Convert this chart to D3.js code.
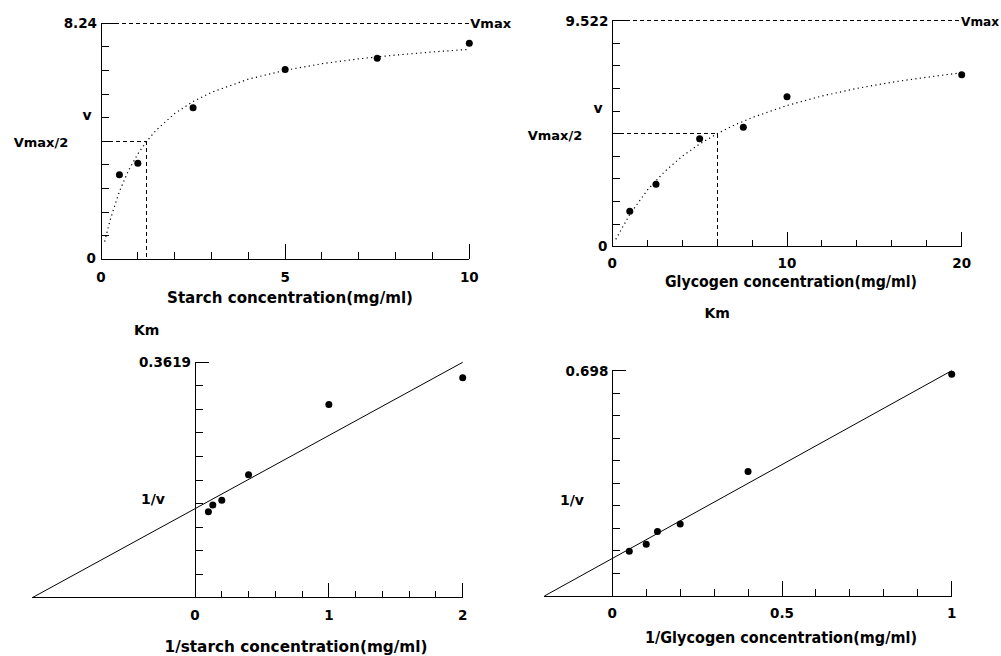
<!DOCTYPE html>
<html><head><meta charset="utf-8">
<script src="https://cdn.jsdelivr.net/npm/d3@7"></script>
<style>
html,body{margin:0;padding:0;background:#fff;}
svg text{font-family:"DejaVu Sans",Verdana,sans-serif;font-weight:bold;font-size:13.5px;fill:#000;}
svg text.title{font-size:15px;}
svg text.name{font-size:14px;}
svg text.vm{font-size:13px;}
</style></head>
<body><svg id="c" width="1001" height="656"></svg>
<script>
// ---- Data ----
const starchConc = [0.5, 1, 2.5, 5, 7.5, 10];
const starchRate = [2.95, 3.35, 5.29, 6.63, 7.02, 7.54];
const starchFitConc = [0.1, 0.25, 0.5, 0.75, 1, 1.24, 1.5, 2, 2.5, 3, 4, 5, 6, 7, 8, 9, 10];
const starchFitRate = [0.62, 1.38, 2.37, 3.11, 3.68, 4.12, 4.51, 5.09, 5.51, 5.83, 6.29, 6.60, 6.83, 7.00, 7.13, 7.24, 7.33];
const starchVmax = 8.24, starchKm = 1.24;

const glyConc = [1, 2.5, 5, 7.5, 10, 20];
const glyRate = [1.49, 2.63, 4.55, 5.03, 6.32, 7.24];
const glyFitConc = [0.2, 1, 2, 3, 4, 5, 6, 7, 8, 10, 12, 14, 16, 18, 20];
const glyFitRate = [0.31, 1.36, 2.38, 3.17, 3.81, 4.33, 4.76, 5.13, 5.44, 5.95, 6.35, 6.67, 6.93, 7.14, 7.33];
const glyVmax = 9.522, glyKm = 6.0;

const invStarchConc = [0.1, 0.133, 0.2, 0.4, 1, 2];
const invStarchRate = [0.132, 0.1425, 0.150, 0.189, 0.297, 0.338];
const starchLineX = [-1.216, 2];
const starchLineY = [0, 0.3619];
const invStarchTop = 0.3619;

const invGlyConc = [0.05, 0.1, 0.133, 0.2, 0.4, 1];
const invGlyRate = [0.139, 0.160, 0.200, 0.223, 0.386, 0.687];
const glyLineX = [-0.2, 1];
const glyLineY = [0, 0.698];
const invGlyTop = 0.698;

const svg = d3.select("#c");

function panel(o) {
  const g = svg.append("g");
  const x = d3.scaleLinear().domain(o.xDomain).range(o.xRange);
  const y = d3.scaleLinear().domain([0, o.yTop]).range(o.yRange);
  const x0 = x(0), yb = y(0);
  const L = (a, b, c, d, dash) => {
    const l = g.append("line").attr("x1", a).attr("y1", b).attr("x2", c).attr("y2", d)
      .attr("stroke", "#000").attr("stroke-width", 1).attr("shape-rendering", "crispEdges");
    if (dash) l.attr("stroke-dasharray", dash);
    return l;
  };
  // axes
  L(x0, y(o.yTop), x0, yb);
  L(x(o.axisXMin), yb, x(o.xDomain[1]), yb);
  // y ticks
  d3.range(1, 11).forEach(i => {
    const v = o.yTop * i / 10;
    L(x0, y(v), x0 + (i === 10 ? 14 : 8), y(v));
  });
  // x ticks
  d3.range(1, 11).forEach(i => {
    const v = o.xDomain[1] * i / 10;
    const major = (i % 5 === 0);
    L(x(v), yb, x(v), yb - (major ? 15 : 7));
  });
  // x tick labels
  o.xLabels.forEach(v => {
    g.append("text").attr("x", x(v)).attr("y", yb + o.xLabDy).attr("text-anchor", "middle").text(v);
  });
  // y top label
  g.append("text").attr("x", x0 - 4).attr("y", y(o.yTop) + 5).attr("text-anchor", "end").text(o.yTopLabel);
  if (o.yZero) g.append("text").attr("x", x0 - 5).attr("y", yb + 4).attr("text-anchor", "end").text("0");
  // axis title
  g.append("text").attr("class", "title").attr("x", o.titleX).attr("y", yb + o.titleDy)
    .attr("text-anchor", "middle").attr("textLength", o.titleW).attr("lengthAdjust", "spacingAndGlyphs").text(o.title);
  g.append("text").attr("class", "name").attr("x", o.yLab[0]).attr("y", o.yLab[1]).attr("text-anchor", "middle").text(o.yName);
  return {g, x, y, L};
}

const line = (x, y) => d3.line().x(d => x(d[0])).y(d => y(d[1]));

// ---- Panel 1: starch ----
(function () {
  const p = panel({xDomain: [0, 10], xRange: [101, 469.3], axisXMin: 0, yTop: starchVmax, yRange: [259.3, 23.3],
    xLabels: [0, 5, 10], xLabDy: 23, yTopLabel: "8.24", yZero: true,
    title: "Starch concentration(mg/ml)", titleX: 290, titleDy: 44, titleW: 246, yName: "v", yLab: [87, 120]});
  const {g, x, y, L} = p;
  L(x(0) + 14, y(starchVmax), x(10), y(starchVmax), "4,3");
  g.append("text").attr("class", "vm").attr("x", x(10) + 1).attr("y", y(starchVmax) + 5).text("Vmax");
  L(x(0) + 8, y(starchVmax / 2), x(starchKm), y(starchVmax / 2), "4,3");
  L(x(starchKm), y(starchVmax / 2), x(starchKm), y(0), "4,3");
  g.append("text").attr("class", "vm").attr("x", 41).attr("y", y(starchVmax / 2) + 6).attr("text-anchor", "middle").text("Vmax/2");
  g.append("text").attr("class", "name").attr("x", x(starchKm)).attr("y", 335).attr("text-anchor", "middle").text("Km");
  g.append("path").attr("d", line(x, y)(d3.zip(starchFitConc, starchFitRate)))
    .attr("fill", "none").attr("stroke", "#000").attr("stroke-width", 1.2).attr("stroke-dasharray", "1.2,3.3");
  g.selectAll("circle").data(d3.zip(starchConc, starchRate)).join("circle")
    .attr("cx", d => x(d[0])).attr("cy", d => y(d[1])).attr("r", 3.5).attr("fill", "#000");
})();

// ---- Panel 2: glycogen ----
(function () {
  const p = panel({xDomain: [0, 20], xRange: [612.3, 961.7], axisXMin: 0, yTop: glyVmax, yRange: [246.7, 20.7],
    xLabels: [0, 10, 20], xLabDy: 21, yTopLabel: "9.522", yZero: true,
    title: "Glycogen concentration(mg/ml)", titleX: 791, titleDy: 40, titleW: 252, yName: "v", yLab: [598, 113]});
  const {g, x, y, L} = p;
  L(x(0) + 14, y(glyVmax), x(20), y(glyVmax), "4,3");
  g.append("text").attr("class", "vm").attr("x", 999).attr("y", y(glyVmax) + 5)
    .attr("text-anchor", "end").attr("textLength", 38).attr("lengthAdjust", "spacingAndGlyphs").text("Vmax");
  L(x(0) + 8, y(glyVmax / 2), x(glyKm), y(glyVmax / 2), "4,3");
  L(x(glyKm), y(glyVmax / 2), x(glyKm), y(0), "4,3");
  g.append("text").attr("class", "vm").attr("x", 555).attr("y", y(glyVmax / 2) + 6).attr("text-anchor", "middle").text("Vmax/2");
  g.append("text").attr("class", "name").attr("x", x(glyKm)).attr("y", 318).attr("text-anchor", "middle").text("Km");
  g.append("path").attr("d", line(x, y)(d3.zip(glyFitConc, glyFitRate)))
    .attr("fill", "none").attr("stroke", "#000").attr("stroke-width", 1.2).attr("stroke-dasharray", "1.2,3.3");
  g.selectAll("circle").data(d3.zip(glyConc, glyRate)).join("circle")
    .attr("cx", d => x(d[0])).attr("cy", d => y(d[1])).attr("r", 3.5).attr("fill", "#000");
})();

// ---- Panel 3: 1/starch ----
(function () {
  const p = panel({xDomain: [0, 2], xRange: [195, 462.7], axisXMin: starchLineX[0], yTop: invStarchTop, yRange: [597.7, 362.3],
    xLabels: [0, 1, 2], xLabDy: 22, yTopLabel: "0.3619", yZero: false,
    title: "1/starch concentration(mg/ml)", titleX: 296, titleDy: 54, titleW: 263, yName: "1/v", yLab: [153, 504]});
  const {g, x, y} = p;
  g.append("path").attr("d", line(x, y)(d3.zip(starchLineX, starchLineY)))
    .attr("fill", "none").attr("stroke", "#000").attr("stroke-width", 1);
  g.selectAll("circle").data(d3.zip(invStarchConc, invStarchRate)).join("circle")
    .attr("cx", d => x(d[0])).attr("cy", d => y(d[1])).attr("r", 3.5).attr("fill", "#000");
})();

// ---- Panel 4: 1/glycogen ----
(function () {
  const p = panel({xDomain: [0, 1], xRange: [612.3, 951.7], axisXMin: glyLineX[0], yTop: invGlyTop, yRange: [596, 370.7],
    xLabels: [0, 0.5, 1], xLabDy: 22, yTopLabel: "0.698", yZero: false,
    title: "1/Glycogen concentration(mg/ml)", titleX: 781, titleDy: 47, titleW: 272, yName: "1/v", yLab: [572, 505]});
  const {g, x, y} = p;
  g.append("path").attr("d", line(x, y)(d3.zip(glyLineX, glyLineY)))
    .attr("fill", "none").attr("stroke", "#000").attr("stroke-width", 1);
  g.selectAll("circle").data(d3.zip(invGlyConc, invGlyRate)).join("circle")
    .attr("cx", d => x(d[0])).attr("cy", d => y(d[1])).attr("r", 3.5).attr("fill", "#000");
})();
</script></body></html>
